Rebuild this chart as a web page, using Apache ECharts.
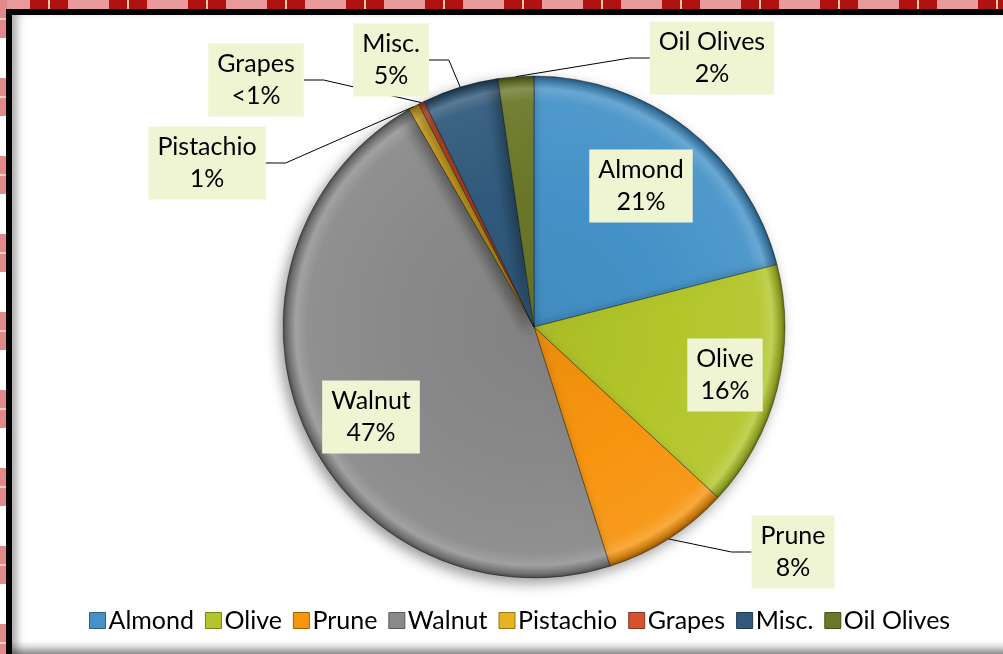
<!DOCTYPE html>
<html>
<head>
<meta charset="utf-8">
<script src="https://cdn.jsdelivr.net/npm/echarts@6/dist/echarts.min.js"></script>
<style>
    html, body {
        margin: 0;
        padding: 0;
        width: 1003px;
        height: 654px;
        overflow: hidden;
        background: #fff;
    }
    .plaid_top {
        position: absolute;
        left: 0; top: 0;
        width: 1003px; height: 10px;
        background: repeating-linear-gradient(90deg,
            #e99a9a 0px, #e99a9a 30px,
            #b01212 30px, #b01212 48px,
            #f2c9a0 48px, #f2c9a0 50px,
            #b01212 50px, #b01212 68px,
            #e99a9a 68px, #e99a9a 79px);
    }
    .plaid_left {
        position: absolute;
        left: 0; top: 0;
        width: 7px; height: 654px;
        background: repeating-linear-gradient(180deg,
            #e08a8a 0px, #e08a8a 18px,
            #f6d0d0 18px, #f6d0d0 20px,
            #e08a8a 20px, #e08a8a 38px,
            #ffffff 38px, #ffffff 78px);
    }
    .frame {
        position: absolute;
        left: 6px; top: 9px;
        width: 1100px; height: 700px;
        border: 6px solid #000;
        background: #fff;
        box-shadow: inset 9px 0 9px -4px rgba(0, 0, 0, 0.35);
    }
    .frame_bottom {
        position: absolute;
        left: 12px; top: 641px;
        width: 991px; height: 13px;
        background: linear-gradient(180deg, rgba(0,0,0,0) 0%, rgba(0,0,0,0.12) 40%, rgba(0,0,0,0.45) 100%);
    }
    #chart {
        position: absolute;
        left: 0; top: 0;
        width: 1003px;
        height: 654px;
    }
</style>
</head>
<body>
<div class="plaid_top"></div>
<div class="plaid_left"></div>
<div class="frame"></div>
<div class="frame_bottom"></div>
<div id="chart"></div>
<script>
// data (shares of the total, %)
const categories = ['Almond', 'Olive', 'Prune', 'Walnut', 'Pistachio', 'Grapes', 'Misc.', 'Oil Olives'];
const shares = [21.0, 15.9, 8.2, 46.6, 0.7, 0.4, 4.9, 2.3];

const colors = ['#4592c8', '#b2c62a', '#f7950f', '#898989', '#e6b422', '#d5522f', '#30597b', '#6b7829'];

// where each label box sits (Excel placed them by hand)
const labelSpots = {
    'Almond':     { x: 641, y: 186, inside: true },
    'Olive':      { x: 725, y: 375, inside: true },
    'Prune':      { x: 793, y: 552 },
    'Walnut':     { x: 371, y: 417, inside: true },
    'Pistachio':  { x: 207, y: 163 },
    'Grapes':     { x: 256, y: 80 },
    'Misc.':      { x: 391, y: 60 },
    'Oil Olives': { x: 712, y: 58 }
};

const CX = 534, CY = 327, R = 251;

function shade(hex, amt) {
    let n = parseInt(hex.slice(1), 16);
    let r = (n >> 16) & 255, g = (n >> 8) & 255, b = n & 255;
    const f = (c) => Math.max(0, Math.min(255, Math.round(amt > 0 ? c + (255 - c) * amt : c * (1 + amt))));
    return 'rgb(' + f(r) + ',' + f(g) + ',' + f(b) + ')';
}

function bevel(c) {
    return {
        type: 'radial', x: CX, y: CY, r: R, global: true,
        colorStops: [
            { offset: 0, color: shade(c, -0.05) },
            { offset: 0.55, color: c },
            { offset: 0.9, color: shade(c, 0.06) },
            { offset: 0.95, color: shade(c, 0.2) },
            { offset: 0.985, color: shade(c, -0.2) },
            { offset: 1, color: shade(c, -0.45) }
        ]
    };
}

const font = 'Lato, "Open Sans", sans-serif';

const pieData = categories.map((name, i) => ({
    name: name,
    value: shares[i],
    itemStyle: { color: bevel(colors[i]) },
    label: { position: labelSpots[name].inside ? 'inside' : 'outside' },
    labelLine: { show: !labelSpots[name].inside }
}));

let myChart = echarts.init(document.getElementById('chart'));

let option = {
    animation: false,
    backgroundColor: 'transparent',
    color: colors,
    legend: {
        top: 603,
        left: 84,
        icon: 'rect',
        itemWidth: 16,
        itemHeight: 16,
        itemGap: 11,
        textStyle: {
            fontFamily: font,
            fontSize: 25,
            color: '#000',
            padding: [0, 0, 0, -2]
        },
        data: categories.map((n, i) => ({
            name: n,
            itemStyle: { color: colors[i], borderColor: shade(colors[i], -0.35), borderWidth: 1 }
        }))
    },
    series: [{
        type: 'pie',
        center: [CX, CY],
        radius: R,
        startAngle: 90,
        clockwise: true,
        avoidLabelOverlap: false,
        itemStyle: {
            borderColor: 'rgba(0,0,0,0.35)',
            borderWidth: 1,
            shadowBlur: 14,
            shadowColor: 'rgba(0,0,0,0.4)',
            shadowOffsetX: -4,
            shadowOffsetY: 5
        },
        label: {
            show: true,
            fontFamily: font,
            fontSize: 25,
            lineHeight: 32,
            color: '#000',
            align: 'center',
            backgroundColor: '#eff5d2',
            padding: [5, 9, 4, 9],
            formatter: function (p) {
                // Excel rounds; anything under half a percent shows as <1%
                let pct = p.percent < 0.5 ? '<1%' : Math.round(p.percent) + '%';
                return p.name + '\n' + pct;
            }
        },
        labelLine: {
            show: true,
            length: 20,
            length2: 20,
            lineStyle: { color: '#000', width: 1 }
        },
        labelLayout: function (params) {
            let spot = labelSpots[categories[params.dataIndex]];
            return {
                x: spot.x,
                y: spot.y,
                align: 'center',
                verticalAlign: 'middle'
            };
        },
        emphasis: { disabled: true },
        data: pieData
    }]
};

option && myChart.setOption(option);
</script>
</body>
</html>
